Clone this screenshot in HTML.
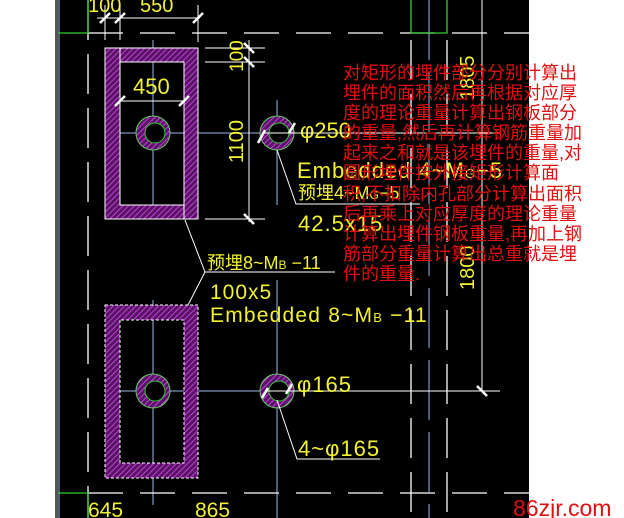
<!DOCTYPE html>
<html><head><meta charset="utf-8"><style>
html,body{margin:0;padding:0;background:#fff;}
svg{display:block}
text{font-family:"Liberation Sans","Noto Sans CJK SC",sans-serif;}
</style></head><body>
<svg width="624" height="518" viewBox="0 0 624 518" xmlns="http://www.w3.org/2000/svg">
<defs>
<pattern id="h" width="4" height="4" patternUnits="userSpaceOnUse" patternTransform="rotate(45)">
<rect width="4" height="4" fill="#5a1266"/><line x1="0" y1="0" x2="0" y2="4" stroke="#d050e8" stroke-width="1.6"/>
</pattern>
</defs>
<rect x="55" y="0" width="3" height="518" fill="#555"/>
<rect x="58" y="0" width="471" height="518" fill="#000"/>
<line x1="59" y1="0" x2="59" y2="518" stroke="#9ab8e8" stroke-width="1"/>
<g stroke="#fff" stroke-width="1.3" stroke-dasharray="40,14">
<line x1="88" y1="0" x2="88" y2="518"/>
<line x1="411" y1="40" x2="411" y2="518"/>
<line x1="447" y1="40" x2="447" y2="518"/>
</g>
<g stroke="#9ab8e8" stroke-width="1">
<line x1="153" y1="40" x2="153" y2="205"/>
<line x1="153" y1="300" x2="153" y2="505"/>
<line x1="277" y1="100" x2="277" y2="205"/>
<line x1="277" y1="280" x2="277" y2="518"/>
<line x1="429" y1="0" x2="429" y2="518" stroke-dasharray="60,12"/>
<line x1="120" y1="133" x2="262" y2="133"/>
<line x1="120" y1="391" x2="262" y2="391"/>
</g>
<g stroke="#fff" stroke-width="1.3" stroke-dasharray="35,17">
<line x1="88" y1="33" x2="529" y2="33"/>
<line x1="88" y1="493" x2="529" y2="493"/>
</g>
<g stroke="#3c3" stroke-width="1.3" fill="none">
<polyline points="58,33 88,33 88,0"/>
<polyline points="58,493 88,493 88,518"/>
<polyline points="411,0 411,33 447,33 447,0"/>
</g>
<path d="M105 48H198V219H105Z M120 62V205H184V62Z" fill="url(#h)" fill-rule="evenodd" stroke="#fff" stroke-width="1"/>
<line x1="120" y1="48" x2="120" y2="62" stroke="#fff"/>
<line x1="184" y1="205" x2="184" y2="219" stroke="#fff"/>
<path d="M105 305H198V478H105Z M120 320V463H184V320Z" fill="url(#h)" fill-rule="evenodd" stroke="#fff" stroke-width="1" stroke-dasharray="3,2"/>
<g>
<circle cx="153" cy="133" r="17" fill="url(#h)" stroke="#6c6"/>
<circle cx="155" cy="133" r="10" fill="#000" stroke="#3c3"/>
<circle cx="277" cy="133" r="17" fill="url(#h)" stroke="#6c6"/>
<circle cx="279" cy="133" r="10" fill="#000" stroke="#3c3"/>
<circle cx="153" cy="391" r="17" fill="url(#h)" stroke="#6c6"/>
<circle cx="155" cy="391" r="10" fill="#000" stroke="#3c3"/>
<circle cx="277" cy="391" r="17" fill="url(#h)" stroke="#6c6"/>
<circle cx="279" cy="391" r="10" fill="#000" stroke="#3c3"/>
</g>
<g stroke="#fff" stroke-width="1" fill="none">
<line x1="97" y1="18" x2="200" y2="18"/>
<line x1="105" y1="5" x2="105" y2="40"/>
<line x1="120" y1="5" x2="120" y2="40"/>
<line x1="198" y1="5" x2="198" y2="42"/>
<line x1="120" y1="101" x2="184" y2="101"/>
<line x1="205" y1="48" x2="265" y2="48"/>
<line x1="205" y1="62" x2="265" y2="62"/>
<line x1="205" y1="219" x2="265" y2="219"/>
<line x1="249" y1="40" x2="249" y2="222"/>
<line x1="262" y1="133" x2="500" y2="133"/>
<line x1="265" y1="391" x2="500" y2="391"/>
<line x1="482" y1="0" x2="482" y2="391"/>
<polyline points="277,150 296,204 420,204"/>
<polyline points="185,220 205,272 335,272"/>
<line x1="205" y1="272" x2="188" y2="305"/>
<polyline points="277,400 297,459 380,459"/>
</g>
<g stroke="#fff" stroke-width="2.5">
<line x1="100" y1="23" x2="110" y2="13"/><line x1="115" y1="23" x2="125" y2="13"/><line x1="193" y1="23" x2="203" y2="13"/>
<line x1="115" y1="106" x2="125" y2="96"/><line x1="179" y1="106" x2="189" y2="96"/>
<line x1="244" y1="43" x2="254" y2="53"/><line x1="244" y1="57" x2="254" y2="67"/><line x1="244" y1="214" x2="254" y2="224"/>
<line x1="258" y1="143" x2="265" y2="130"/><line x1="289" y1="133" x2="295" y2="123"/>
<line x1="262" y1="398" x2="268" y2="388"/><line x1="286" y1="394" x2="292" y2="384"/>
<line x1="477" y1="386" x2="487" y2="396"/>
</g>
<g fill="#ff3" font-size="22" fill-opacity="0.95">
<text x="88" y="12" font-size="20">100</text>
<text x="140" y="12" font-size="20">550</text>
<text x="133" y="94">450</text>
<text x="300" y="138">φ250</text>
<text x="297" y="178" letter-spacing="1">Embedded 4~M<tspan font-size="13">G</tspan>−5</text>
<text x="298" y="199" font-size="18">预埋4~M<tspan font-size="12">G</tspan>−5</text>
<text x="298" y="231" letter-spacing="1">42.5x15</text>
<text x="207" y="269" font-size="18">预埋8~M<tspan font-size="12">B</tspan> −11</text>
<text x="210" y="299" font-size="21" letter-spacing="1">100x5</text>
<text x="210" y="322" font-size="21" letter-spacing="1.2">Embedded  8~M<tspan font-size="13">B</tspan> −11</text>
<text x="297" y="392" letter-spacing="1">φ165</text>
<text x="298" y="456" letter-spacing="1">4~φ165</text>
<text x="88" y="517" font-size="21">645</text>
<text x="195" y="517" font-size="21">865</text>
<text transform="translate(243,72) rotate(-90)" font-size="19">100</text>
<text transform="translate(243,163) rotate(-90)" font-size="20">1100</text>
<text transform="translate(474,100) rotate(-90)" font-size="20">1805</text>
<text transform="translate(474,290) rotate(-90)" font-size="20">1800</text>
</g>
<g fill="#e01010" font-size="18" font-family="'Noto Sans CJK SC',sans-serif">
<text x="343" y="79">对矩形的埋件部分分别计算出</text>
<text x="343" y="99">埋件的面积然后再根据对应厚</text>
<text x="343" y="119">度的理论重量计算出钢板部分</text>
<text x="343" y="139">的重量,然后再计算钢筋重量加</text>
<text x="343" y="159">起来之和就是该埋件的重量,对</text>
<text x="343" y="179">圆形埋件按外接矩形计算面</text>
<text x="343" y="200">积,不扣除内孔部分计算出面积</text>
<text x="343" y="220">后再乘上对应厚度的理论重量</text>
<text x="343" y="240">计算出埋件钢板重量,再加上钢</text>
<text x="343" y="260">筋部分重量计算出总重就是埋</text>
<text x="343" y="280">件的重量.</text>
</g>
<text x="513" y="516" fill="#e01010" font-size="23" font-family="'Liberation Mono',monospace">86zjr.com</text>
</svg>
</body></html>
